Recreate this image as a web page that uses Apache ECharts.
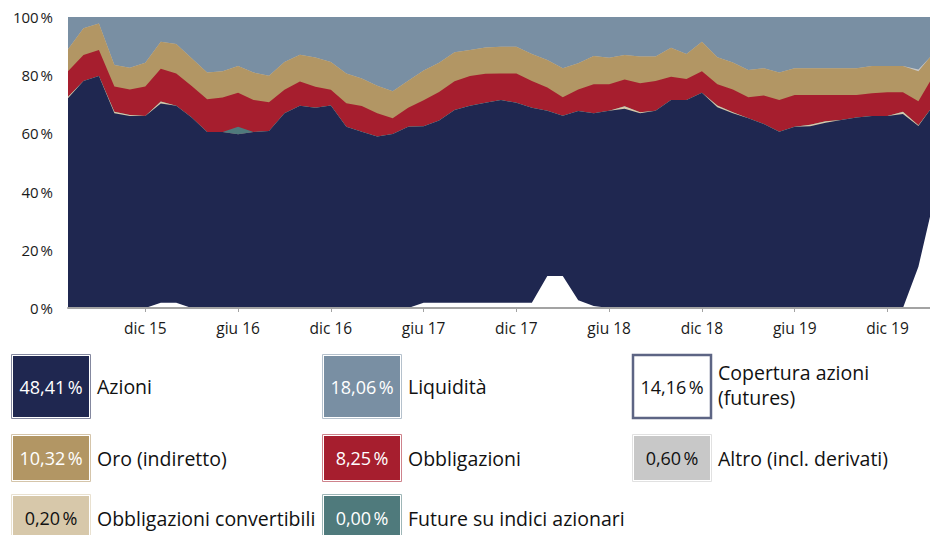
<!DOCTYPE html>
<html>
<head>
<meta charset="utf-8">
<script src="https://cdn.jsdelivr.net/npm/echarts@6/dist/echarts.min.js"></script>
<style>
  html, body { margin: 0; padding: 0; background: #fff; }
  #chart { width: 930px; height: 535px; }
</style>
</head>
<body>
<div id="chart"></div>
<script>
// x = months since lug 15 (last point is a few days into feb 20)
const monthNames = ["gen", "feb", "mar", "apr", "mag", "giu", "lug", "ago", "set", "ott", "nov", "dic"];
const xPos = [];
for (let i = 0; i <= 55; i++) xPos.push(i);
xPos.push(55.75);
const tickPos = [5, 11, 17, 23, 29, 35, 41, 47, 53]; // dic 15, giu 16 ... dic 19

// % of portfolio, listed bottom to top of the stack
const azioni = [72.1, 78.0, 79.7, 66.9, 66.0, 66.0, 70.3, 69.5, 65.5, 60.5,
  60.5, 59.7, 60.5, 60.8, 66.9, 69.5, 68.8, 69.6, 62.3, 60.6,
  58.9, 59.8, 62.3, 62.5, 64.4, 68.0, 69.5, 70.5, 71.5, 70.5,
  68.8, 67.8, 66.1, 67.7, 66.9, 67.8, 68.5, 66.9, 67.8, 71.5,
  71.5, 74.0, 69.0, 66.9, 65.2, 63.2, 60.6, 62.3, 62.5, 63.7,
  64.6, 65.5, 66.0, 66.0, 66.7, 62.57, 68.0];
const convertibili = [0.5, 0, 0, 0.5, 0.3, 0, 0.7, 0, 0, 0,
  0, 0, 0, 0, 0, 0, 0, 0, 0, 0,
  0, 0, 0, 0, 0, 0, 0, 0, 0, 0,
  0, 0, 0, 0, 0, 0, 0.8, 0.4, 0, 0,
  0, 0, 0.6, 0.4, 0, 0, 0, 0, 0.5, 0.5,
  0, 0, 0, 0, 0.7, 0.2, 0];
const futureIndici = [0, 0, 0, 0, 0, 0, 0, 0, 0, 0,
  0, 2.6, 0, 0, 0, 0, 0, 0, 0, 0,
  0, 0, 0, 0, 0, 0, 0, 0, 0, 0,
  0, 0, 0, 0, 0, 0, 0, 0, 0, 0,
  0, 0, 0, 0, 0, 0, 0, 0, 0, 0,
  0, 0, 0, 0, 0, 0, 0];
const obbligazioni = [8.8, 8.9, 9.0, 8.7, 8.8, 10.1, 11.2, 11.1, 10.8, 11.2,
  11.8, 11.7, 11.0, 9.9, 8.1, 8.3, 7.2, 5.4, 8.1, 8.8,
  8.0, 5.4, 6.5, 8.9, 9.8, 9.9, 10.2, 10.0, 9.1, 10.1,
  9.2, 8.0, 6.3, 7.4, 10.0, 9.1, 9.2, 9.9, 10.2, 8.0,
  7.2, 7.4, 7.3, 7.8, 7.2, 9.8, 10.9, 10.9, 10.2, 9.0,
  8.6, 7.7, 7.8, 8.1, 6.7, 8.25, 9.8];
const oro = [7.5, 9.2, 9.1, 7.4, 7.5, 8.2, 9.3, 10.1, 9.5, 9.2,
  9.1, 9.2, 9.4, 9.1, 9.5, 9.2, 10.1, 9.5, 10.2, 9.5,
  9.5, 9.3, 9.3, 10.2, 10.1, 10.0, 9.0, 9.0, 9.2, 9.2,
  9.3, 9.4, 10.0, 9.0, 9.7, 9.1, 8.4, 9.2, 8.4, 9.9,
  8.6, 10.1, 9.3, 9.3, 9.4, 9.4, 9.4, 9.2, 9.2, 9.2,
  9.2, 9.2, 9.4, 9.1, 9.1, 10.32, 8.4];
const altro = [0, 0, 0, 0, 0, 0, 0, 0, 0, 0,
  0, 0, 0, 0, 0, 0, 0, 0, 0, 0,
  0, 0, 0, 0, 0, 0, 0, 0, 0, 0,
  0, 0, 0, 0, 0, 0, 0, 0, 0, 0,
  0, 0, 0, 0, 0, 0, 0, 0, 0, 0,
  0, 0, 0, 0, 0, 0.6, 0];
const liquidita = [11.1, 3.9, 2.2, 16.5, 17.4, 15.7, 8.5, 9.3, 14.2, 19.1,
  18.6, 16.8, 19.1, 20.2, 15.5, 13.0, 13.9, 15.5, 19.4, 21.1,
  23.6, 25.5, 21.9, 18.4, 15.7, 12.1, 11.3, 10.5, 10.2, 10.2,
  12.7, 14.8, 17.6, 15.9, 13.4, 14.0, 13.1, 13.6, 13.6, 10.6,
  12.7, 8.5, 13.8, 15.6, 18.2, 17.6, 19.1, 17.6, 17.6, 17.6,
  17.6, 17.6, 16.8, 16.8, 16.8, 18.06, 13.8];
// hedge drawn over the equity area, from 0
const copertura = [0, 0, 0, 0, 0, 0, 1.8, 1.8, 0, 0,
  0, 0, 0, 0, 0, 0, 0, 0, 0, 0,
  0, 0, 0, 1.8, 1.8, 1.8, 1.8, 1.8, 1.8, 1.8,
  1.8, 11, 11, 2.7, 0.7, 0, 0, 0, 0, 0,
  0, 0, 0, 0, 0, 0, 0, 0, 0, 0,
  0, 0, 0, 0, 0, 14.16, 31.4];

// legend boxes (latest values), in 3 columns
const legendNames = ["Azioni", "Liquidità", "Copertura azioni\n(futures)",
  "Oro (indiretto)", "Obbligazioni", "Altro (incl. derivati)",
  "Obbligazioni convertibili", "Future su indici azionari"];
const legendPct = [48.41, 18.06, 14.16, 10.32, 8.25, 0.60, 0.20, 0.00];

const C = {
  azioni: "#1f2750",
  liquidita: "#798fa3",
  copertura: "#ffffff",
  oro: "#b29664",
  obbligazioni: "#a61e2e",
  altro: "#c8c8c8",
  convertibili: "#d7c8aa",
  future: "#4f7a7c"
};
const legendColors = [C.azioni, C.liquidita, C.copertura, C.oro, C.obbligazioni, C.altro, C.convertibili, C.future];
const legendDarkText = [false, false, true, false, false, true, true, false];
const FONT = "'Open Sans', 'Noto Sans', sans-serif";

// stack order bottom -> top
const stackList = [
  ["Azioni", azioni, C.azioni],
  ["Obbligazioni convertibili", convertibili, C.convertibili],
  ["Future su indici azionari", futureIndici, C.future],
  ["Obbligazioni", obbligazioni, C.obbligazioni],
  ["Oro (indiretto)", oro, C.oro],
  ["Altro (incl. derivati)", altro, C.altro],
  ["Liquidità", liquidita, C.liquidita]
];

function area(name, arr, color, z) {
  return {
    name: name,
    type: "line",
    data: arr.map((v, i) => [xPos[i], v]),
    symbol: "none",
    silent: true,
    z: z,
    lineStyle: { width: 0 },
    itemStyle: { color: color },
    areaStyle: { color: color, opacity: 1 }
  };
}

// running totals; each band is an area from 0, lower bands painted over higher ones
function buildSeries() {
  const run = xPos.map(() => 0);
  const out = [];
  stackList.forEach(([name, arr, color], k) => {
    const top = arr.map((v, i) => (run[i] = +(run[i] + v).toFixed(3)));
    out.push(area(name, top, color, 2 + stackList.length - k));
  });
  out.push(area("Copertura azioni (futures)", copertura, C.copertura, 20));
  return out;
}

function tint(hex) {
  const n = parseInt(hex.slice(1), 16);
  const r = (n >> 16) & 255, g = (n >> 8) & 255, b = n & 255;
  const m = (c) => Math.round(c + (255 - c) * 0.45);
  return "rgb(" + m(r) + "," + m(g) + "," + m(b) + ")";
}

function fmtPct(v) {
  return v.toFixed(2).replace(".", ",") + "\u202f%";
}

function buildLegend() {
  const colX = [11, 322, 632];
  const rowY = [354, 434, 494];
  const rowH = [65, 48, 48];
  const w = 80;
  const lineH = 25;
  const els = [];
  legendNames.forEach((name, i) => {
    const col = i % 3, row = Math.floor(i / 3);
    const x = colX[col], y = rowY[row], h = rowH[row];
    const color = legendColors[i];
    if (color === "#ffffff") {
      els.push({
        type: "rect",
        shape: { x: x + 1, y: y + 1, width: w - 2, height: h - 2 },
        style: { fill: "#fff", stroke: "#5d6584", lineWidth: 2.5 }
      });
    } else {
      els.push({
        type: "rect",
        shape: { x: x + 0.5, y: y + 0.5, width: w - 1, height: h - 1 },
        style: { fill: "#fff", stroke: tint(color), lineWidth: 1 }
      });
      els.push({
        type: "rect",
        shape: { x: x + 2, y: y + 2, width: w - 4, height: h - 4 },
        style: { fill: color }
      });
    }
    els.push({
      type: "text",
      x: x + w / 2,
      y: y + h / 2,
      style: {
        text: fmtPct(legendPct[i]),
        fill: legendDarkText[i] ? "#111" : "#fff",
        font: "18px " + FONT,
        align: "center",
        verticalAlign: "middle"
      }
    });
    const lines = name.split("\n");
    const shift = lines.length > 1 ? -2 : 0;
    lines.forEach((line, k) => {
      els.push({
        type: "text",
        x: x + w + 6,
        y: y + h / 2 + shift + (k - (lines.length - 1) / 2) * lineH,
        style: {
          text: line,
          fill: "#111",
          font: "19.5px " + FONT,
          align: "left",
          verticalAlign: "middle"
        }
      });
    });
  });
  return els;
}

const chart = echarts.init(document.getElementById("chart"), null, { renderer: "svg" });
chart.setOption({
  animation: false,
  grid: { left: 68, right: 0, top: 17, bottom: 227, containLabel: false },
  xAxis: {
    type: "value",
    min: 0,
    max: 55.75,
    z: 30,
    splitLine: { show: false },
    axisLine: { show: true, lineStyle: { color: "#a3a3a3", width: 2 } },
    axisTick: { show: true, customValues: tickPos, length: 4, lineStyle: { color: "#a3a3a3", width: 1 } },
    axisLabel: {
      customValues: tickPos,
      margin: 12,
      fontSize: 15.5,
      fontFamily: FONT,
      color: "#1a1a1a",
      formatter: (v) => {
        const m = Math.round(v) + 6;
        return monthNames[m % 12] + " " + (15 + Math.floor(m / 12));
      }
    }
  },
  yAxis: {
    type: "value",
    min: 0,
    max: 100,
    interval: 20,
    splitLine: { show: false },
    axisLine: { show: false },
    axisTick: { show: false },
    axisLabel: {
      margin: 15,
      fontSize: 15,
      fontFamily: FONT,
      color: "#1a1a1a",
      formatter: (v) => v + "\u202f%"
    }
  },
  series: buildSeries(),
  graphic: buildLegend()
});
</script>
</body>
</html>
